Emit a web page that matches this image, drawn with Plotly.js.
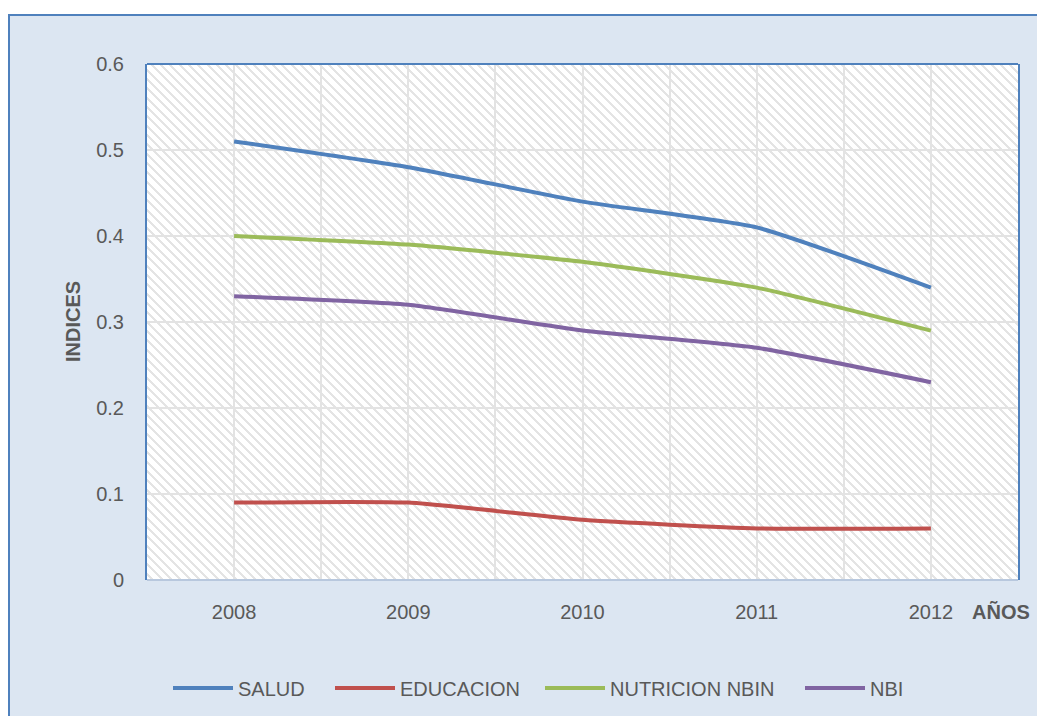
<!DOCTYPE html>
<html>
<head>
<meta charset="utf-8">
<script src="https://cdn.plot.ly/plotly-3.0.1.min.js"></script>
<style>
  html, body { margin:0; padding:0; background:#ffffff; width:1037px; height:716px; overflow:hidden; }
  #frame { position:absolute; left:8px; top:14px; width:1040px; height:720px; background:#dce6f2; border:2px solid #4f81bd; box-sizing:border-box; }
  #hatch { position:absolute; left:147px; top:64px; width:871px; height:516px;
    background: repeating-linear-gradient(45deg, #ffffff 0px, #ffffff 3.4px, #e4e4e4 3.4px, #e4e4e4 5.6px, #ffffff 5.6px, #ffffff 6.6px); }
  #chart { position:absolute; left:0; top:0; width:1037px; height:716px; }
</style>
</head>
<body>
<div id="frame"></div>
<div id="hatch"></div>
<div id="chart"></div>
<script>
const years = [2008, 2009, 2010, 2011, 2012];
const seriesNames = ["SALUD", "EDUCACION", "NUTRICION NBIN", "NBI"];
const salud = [0.51, 0.48, 0.44, 0.41, 0.34];
const educacion = [0.09, 0.09, 0.07, 0.06, 0.06];
const nutricion = [0.40, 0.39, 0.37, 0.34, 0.29];
const nbi = [0.33, 0.32, 0.29, 0.27, 0.23];
const colors = ["#4f81bd", "#c0504d", "#9bbb59", "#8064a2"];
const yTicks = [0, 0.1, 0.2, 0.3, 0.4, 0.5, 0.6];
const yTickText = ["0", "0.1", "0.2", "0.3", "0.4", "0.5", "0.6"];

const FONT = "Liberation Sans, Arial, sans-serif";
const FS = 20;
const legendIds = ["legend", "legend2", "legend3", "legend4"];
// left edge (in px) of each legend entry's line sample
const legendLeftPx = [173, 335, 545, 805];
const plotL = 147, plotW = 871, plotT = 64, plotH = 516;

const values = [salud, educacion, nutricion, nbi];
const traces = values.map((v, i) => ({
  type: "scatter", mode: "lines", x: years, y: v, name: seriesNames[i],
  legend: legendIds[i],
  line: { color: colors[i], width: 4, shape: "spline", smoothing: 0.5 },
  hoverinfo: "x+y+name"
}));

const xTickVals = [], xTickText = [];
for (let i = 0; i <= years.length * 2; i++) {
  const v = years[0] - 0.5 + i * 0.5;
  xTickVals.push(v);
  xTickText.push(Number.isInteger(v) ? String(v) : "");
}

const tickFont = { family: FONT, size: FS, color: "#595959" };
const layout = {
  width: 1037, height: 716,
  margin: { l: plotL, r: 1037 - plotL - plotW, t: plotT, b: 716 - plotT - plotH },
  paper_bgcolor: "rgba(0,0,0,0)",
  plot_bgcolor: "rgba(0,0,0,0)",
  showlegend: true,
  xaxis: {
    range: [years[0] - 0.5, years[years.length - 1] + 0.5],
    tickmode: "array", tickvals: xTickVals, ticktext: xTickText,
    showgrid: true, gridcolor: "#e3e3e3", gridwidth: 2,
    showline: false, zeroline: false, ticks: "", ticklabelstandoff: 18,
    tickfont: tickFont, fixedrange: true, automargin: false
  },
  yaxis: {
    range: [0, 0.6], tickmode: "array", tickvals: yTicks, ticktext: yTickText,
    showgrid: true, gridcolor: "#e3e3e3", gridwidth: 2,
    showline: true, linecolor: "#4f81bd", linewidth: 2, mirror: true,
    zeroline: false, ticks: "", ticklabelstandoff: 17,
    tickfont: tickFont, fixedrange: true, automargin: false
  },
  shapes: [
    { type: "line", xref: "paper", yref: "paper", x0: 0, x1: 1, y0: 1, y1: 1, line: { color: "#4f81bd", width: 2 } },
    { type: "line", xref: "paper", yref: "paper", x0: 0, x1: 1, y0: 0, y1: 0, line: { color: "#b8c8de", width: 2 } }
  ],
  annotations: [
    { text: "<b>INDICES</b>", xref: "paper", yref: "paper", x: 0, y: 0.5, xshift: -74,
      xanchor: "center", yanchor: "middle", textangle: -90, showarrow: false,
      font: { family: FONT, size: FS, color: "#595959" } },
    { text: "<b>AÑOS</b>", xref: "paper", yref: "paper", x: 1, y: 0, xshift: -17, yshift: -32,
      xanchor: "center", yanchor: "middle", showarrow: false,
      font: { family: FONT, size: FS, color: "#595959" } }
  ]
};
legendIds.forEach((id, i) => {
  layout[id] = {
    orientation: "h", xref: "container", yref: "container",
    x: (legendLeftPx[i] - 5) / 1037, xanchor: "left",
    y: 1 - 688 / 716, yanchor: "middle",
    font: { family: FONT, size: FS, color: "#595959" },
    itemwidth: 60, bgcolor: "rgba(0,0,0,0)"
  };
});
Plotly.newPlot("chart", traces, layout, { displayModeBar: false, staticPlot: true });
</script>
</body>
</html>
